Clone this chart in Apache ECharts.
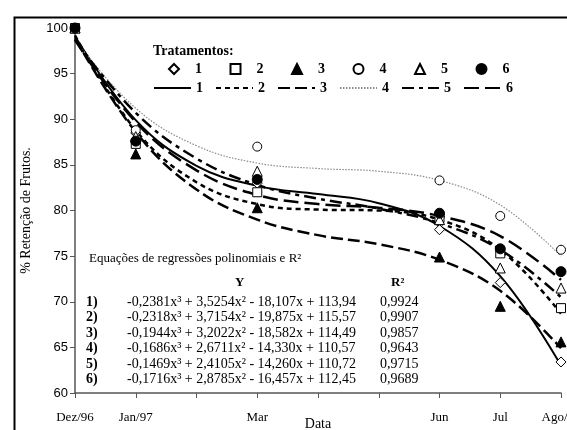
<!DOCTYPE html>
<html>
<head>
<meta charset="utf-8">
<script src="https://cdn.jsdelivr.net/npm/echarts@6/dist/echarts.min.js"></script>
<style>
    html,body{margin:0;padding:0;background:#fff;}
    #container{width:567px;height:430px;}
</style>
</head>
<body>
<div id="container"></div>
<script>
// eixo x: meses de Dez/96 (0) a Ago/97 (8)
var monthLabels = ['Dez/96','Jan/97','','Mar','','','Jun','Jul','Ago/97'];
var monthPos = [0,1,2,3,4,5,6,7,8];
// datas de coleta
var obsPos = [0,1,3,6,7,8];

// pontos observados (% retenção)
var obs1 = [100, 88.5, 83.0, 77.9, 72.1, 63.4];
var obs2 = [100, 87.3, 82.0, 79.2, 75.3, 69.3];
var obs3 = [100, 86.2, 80.3, 74.9, 69.5, 65.6];
var obs4 = [100, 88.8, 87.0, 83.3, 79.4, 75.7];
var obs5 = [100, 88.1, 84.3, 79.0, 73.7, 71.5];
var obs6 = [100, 87.6, 83.4, 79.7, 75.8, 73.3];

// curvas ajustadas (um valor por mes)
var fit1 = [99.1, 89.9, 84.9, 82.7, 81.8, 80.8, 78.3, 72.8, 63.0];
var fit2 = [99.2, 88.8, 83.1, 80.7, 80.1, 80.0, 79.0, 75.7, 68.7];
var fit3 = [98.9, 88.6, 82.3, 79.0, 77.3, 76.3, 74.6, 71.2, 64.9];
var fit4 = [98.7, 91.2, 87.1, 85.2, 84.6, 84.3, 83.3, 80.6, 75.0];
var fit5 = [98.7, 90.7, 85.7, 82.8, 81.3, 80.2, 78.6, 75.7, 70.5];
var fit6 = [98.7, 89.7, 84.4, 81.7, 80.7, 80.3, 79.4, 77.2, 72.4];

var yTicks = [60, 65, 70, 75, 80, 85, 90, 95, 100];

// equacoes
var eqLabels = ['1)','2)','3)','4)','5)','6)'];
var eqTexts = [
    '-0,2381x³ + 3,5254x² - 18,107x + 113,94',
    '-0,2318x³ + 3,7154x² - 19,875x + 115,57',
    '-0,1944x³ + 3,2022x² - 18,582x + 114,49',
    '-0,1686x³ + 2,6711x² - 14,330x + 110,57',
    '-0,1469x³ + 2,4105x² - 14,260x + 110,72',
    '-0,1716x³ + 2,8785x² - 16,457x + 112,45'
];
var r2Values = ['0,9924','0,9907','0,9857','0,9643','0,9715','0,9689'];

var serif = '"Liberation Serif", "Times New Roman", serif';

function pairs(xs, ys){
    var out = [];
    for (var i = 0; i < xs.length; i++){
        out.push([xs[i], ys[i]]);
    }
    return out;
}

var markers = [
    {name:'1', data:obs1, symbol:'diamond', size:10, fill:'#fff'},
    {name:'2', data:obs2, symbol:'rect', size:9, fill:'#fff'},
    {name:'3', data:obs3, symbol:'triangle', size:10, fill:'#000'},
    {name:'4', data:obs4, symbol:'circle', size:9, fill:'#fff'},
    {name:'5', data:obs5, symbol:'triangle', size:10, fill:'#fff'},
    {name:'6', data:obs6, symbol:'circle', size:10, fill:'#000'}
];
var curves = [
    {name:'L1', data:fit1, color:'#000', width:2, type:'solid'},
    {name:'L2', data:fit2, color:'#000', width:2.5, type:[5,4]},
    {name:'L3', data:fit3, color:'#000', width:2.5, type:[12,5]},
    {name:'L4', data:fit4, color:'#8a8a8a', width:1.2, type:[1.5,1.5]},
    {name:'L5', data:fit5, color:'#000', width:2.5, type:[12,5,4,5]},
    {name:'L6', data:fit6, color:'#000', width:2.5, type:[15,6]}
];

var seriesData = [];
for (var c = 0; c < curves.length; c++){
    var cv = curves[c];
    seriesData.push({
        name: cv.name,
        type: 'line',
        smooth: 0.4,
        symbol: 'none',
        showSymbol: false,
        z: 2,
        lineStyle: {color: cv.color, width: cv.width, type: cv.type},
        itemStyle: {color: cv.color},
        data: pairs(monthPos, cv.data)
    });
}
for (var m = 0; m < markers.length; m++){
    var mk = markers[m];
    seriesData.push({
        name: mk.name,
        type: 'scatter',
        symbol: mk.symbol,
        symbolSize: mk.size,
        z: 3,
        itemStyle: {color: mk.fill, borderColor: '#000', borderWidth: 1, opacity: 1},
        data: pairs(obsPos, mk.data)
    });
}

// textos das equacoes
var graphics = [
    {type:'rect', left:12, top:15, shape:{width:600, height:500},
        style:{fill:'none', stroke:'#000', lineWidth:2}, silent:true},
    {type:'text', left:153, top:44,
        style:{text:'Tratamentos:', font:'bold 14px ' + serif, fill:'#000'}},
    {type:'text', left:89, top:252,
        style:{text:'Equações de regressões polinomiais e R²', font:'13px ' + serif, fill:'#000'}},
    {type:'text', left:235, top:276,
        style:{text:'Y', font:'bold 13px ' + serif, fill:'#000'}},
    {type:'text', left:391, top:276,
        style:{text:'R²', font:'bold 13px ' + serif, fill:'#000'}}
];
for (var e = 0; e < eqTexts.length; e++){
    var ty = 295 + e * 15.5;
    graphics.push({type:'text', left:86, top:ty,
        style:{text:eqLabels[e], font:'bold 14px ' + serif, fill:'#000'}});
    graphics.push({type:'text', left:127, top:ty,
        style:{text:eqTexts[e], font:'14px ' + serif, fill:'#000'}});
    graphics.push({type:'text', left:380, top:ty,
        style:{text:r2Values[e], font:'14px ' + serif, fill:'#000'}});
}

var legendText = {fontFamily: serif, fontWeight: 'bold', fontSize: 14, color: '#000'};

var dom = document.getElementById('container');
var myChart = echarts.init(dom);
var option = {
    backgroundColor: '#ffffff',
    animation: false,
    grid: {left: 75, right: 6, top: 28, bottom: 37, containLabel: false, outerBoundsMode: 'none'},
    legend: [{
        data: ['1','2','3','4','5','6'],
        left: 168,
        top: 62,
        padding: 0,
        orient: 'horizontal',
        itemWidth: 10,
        itemHeight: 10,
        itemGap: 27.5,
        textStyle: {fontFamily: serif, fontWeight: 'bold', fontSize: 14, color: '#000', padding: [0, 0, 0, 11]}
    }, {
        data: ['L1','L2','L3','L4','L5','L6'],
        left: 153,
        top: 81,
        padding: 0,
        orient: 'horizontal',
        itemWidth: 37,
        itemHeight: 10,
        itemGap: 12,
        itemStyle: {color: 'rgba(0,0,0,0)', borderColor: 'rgba(0,0,0,0)', borderWidth: 0},
        formatter: function (name) { return name.slice(1); },
        textStyle: legendText
    }],
    xAxis: {
        type: 'value',
        min: 0,
        max: 8,
        interval: 1,
        name: 'Data',
        nameLocation: 'middle',
        nameGap: 24,
        nameMoveOverlap: false,
        nameTextStyle: {fontFamily: serif, fontSize: 14, color: '#000'},
        axisLine: {lineStyle: {color: '#555', width: 1.5}},
        axisTick: {lineStyle: {color: '#555'}, length: 5},
        splitLine: {show: false},
        axisLabel: {
            margin: 18,
            fontFamily: serif,
            fontSize: 13,
            color: '#000',
            showMaxLabel: true,
            formatter: function (v) { return monthLabels[v] || ''; }
        }
    },
    yAxis: {
        type: 'value',
        min: yTicks[0],
        max: yTicks[yTicks.length - 1],
        interval: 5,
        name: '% Retenção de Frutos.',
        nameLocation: 'middle',
        nameGap: 42,
        nameTextStyle: {fontFamily: serif, fontSize: 14, color: '#000', padding: [0, 0, 0, 0]},
        axisLine: {show: true, lineStyle: {color: '#555', width: 1.5}},
        axisTick: {show: true, lineStyle: {color: '#555'}, length: 5},
        splitLine: {show: false},
        axisLabel: {
            margin: 7,
            fontFamily: '"Liberation Sans", Arial, sans-serif',
            fontSize: 13,
            color: '#000'
        }
    },
    graphic: graphics,
    series: seriesData
};
myChart.setOption(option, true);
</script>
</body>
</html>
